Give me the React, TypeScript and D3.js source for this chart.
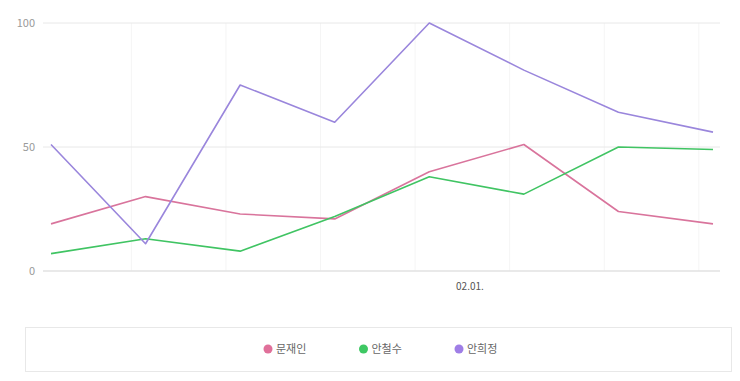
import React from "react";
import * as d3 from "d3";

const categories = ["01.28.", "01.29.", "01.30.", "01.31.", "02.01.", "02.02.", "02.03.", "02.04."];
const seriesNames = ["문재인", "안철수", "안희정"];
const moonValues = [19, 30, 23, 21, 40, 51, 24, 19];
const ahnCSValues = [7, 13, 8, 22, 38, 31, 50, 49];
const ahnHJValues = [51, 11, 75, 60, 100, 81, 64, 56];
const yTicks = [0, 50, 100];
const xLabel = "02.01.";

const lineColors = ["#d9749c", "#40c463", "#9a86dc"];
const dotColors = ["#e0709a", "#3ec863", "#9f7ee6"];

export default function App() {
  const W = 740, H = 381;
  const x = d3.scaleLinear().domain([0, categories.length - 1]).range([51, 713]);
  const y = d3.scaleLinear().domain([0, 100]).range([271, 23]);
  const series = [moonValues, ahnCSValues, ahnHJValues];
  const line = d3.line<number>().x((_, i) => x(i)).y((d) => y(d));
  const gridIdx = d3.range(1, categories.length).map((i) => i - 0.15);
  const legendX = d3.scaleLinear().domain([0, 2]).range([268, 459]);
  const font = "'Noto Sans CJK KR', 'Noto Sans', sans-serif";

  return (
    <svg width={W} height={H} style={{ position: "absolute", left: 0, top: 0, background: "#fff" }} fontFamily={font}>
      {gridIdx.map((g, i) => (
        <line key={"v" + i} x1={x(g)} x2={x(g)} y1={y(100)} y2={y(0)} stroke="#f5f5f5" strokeWidth={1} />
      ))}
      {yTicks.map((t) => (
        <g key={"h" + t}>
          <line x1={43} x2={720} y1={y(t)} y2={y(t)} stroke={t === 0 ? "#e2e2e2" : "#e8e8e8"} strokeWidth={t === 0 ? 1.5 : 1} />
          <text x={35} y={y(t)} dy="0.35em" textAnchor="end" fontSize={11} fill="#9a9a9a">{t}</text>
        </g>
      ))}
      <text x={x(4.43)} y={290} textAnchor="middle" fontSize={10} fill="#555">{xLabel}</text>
      {series.map((s, i) => (
        <path key={"l" + i} d={line(s) || ""} fill="none" stroke={lineColors[i]} strokeWidth={1.6} strokeLinejoin="round" />
      ))}
      <rect x={25.5} y={327.5} width={706} height={44} fill="#fff" stroke="#e8e8e8" />
      {seriesNames.map((n, i) => (
        <g key={"lg" + i}>
          <circle cx={legendX(i)} cy={349} r={4.5} fill={dotColors[i]} />
          <text x={legendX(i) + 8} y={349} dy="0.35em" fontSize={11} fill="#666">{n}</text>
        </g>
      ))}
    </svg>
  );
}
